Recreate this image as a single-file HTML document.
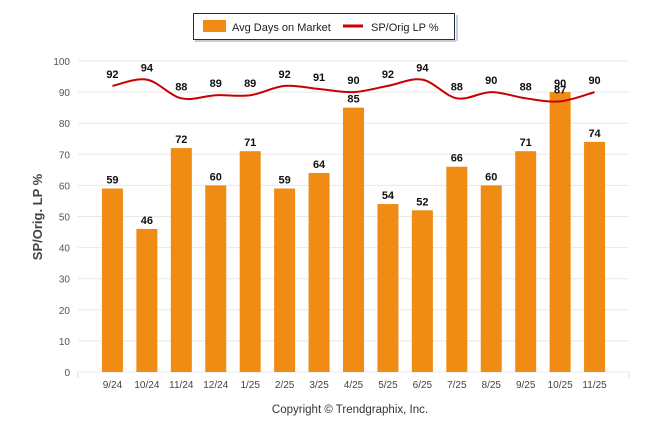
<!DOCTYPE html>
<html><head><meta charset="utf-8"><style>
body{margin:0;background:#fff;font-family:"Liberation Sans",sans-serif}
svg text{font-family:"Liberation Sans",sans-serif}
</style></head><body>
<svg width="646" height="434" xmlns="http://www.w3.org/2000/svg">
<g id="grid"></g><g id="bars"></g><g id="line"></g><g id="labels"></g>
<g>
<rect x="193.5" y="13.5" width="261" height="26" fill="#fff" stroke="#1f2d4d" stroke-width="1"/>
<rect x="456" y="15" width="2" height="26" fill="#ccc"/>
<rect x="195" y="40" width="261" height="2" fill="#ccc"/>
<rect x="203" y="20" width="23" height="12" fill="#f08c14"/>
<text x="232" y="31" font-size="11" fill="#222">Avg Days on Market</text>
<line x1="343" y1="26" x2="363" y2="26" stroke="#c00" stroke-width="3"/>
<text x="371" y="31" font-size="11" fill="#222">SP/Orig LP %</text>
</g>
<text transform="translate(42,217) rotate(-90)" text-anchor="middle" font-size="13" font-weight="bold" fill="#444">SP/Orig. LP %</text>
<text x="350" y="413" text-anchor="middle" font-size="11.5" fill="#333">Copyright © Trendgraphix, Inc.</text>
</svg>
<script>
const categories=["9/24","10/24","11/24","12/24","1/25","2/25","3/25","4/25","5/25","6/25","7/25","8/25","9/25","10/25","11/25"];
const daysOnMarket=[59,46,72,60,71,59,64,85,54,52,66,60,71,90,74];
const spOrigLp=[92,94,88,89,89,92,91,90,92,94,88,90,88,87,90];
const yTicks=[0,10,20,30,40,50,60,70,80,90,100];
const NS="http://www.w3.org/2000/svg";
const x0=78,x1=629,yb=372,yt=61;
const band=(x1-x0)/(categories.length+1);
const xs=i=>x0+band*(i+1);
const ys=v=>yb-(v/100)*(yb-yt);
function mk(t,a,p,txt){const e=document.createElementNS(NS,t);for(const k in a)e.setAttribute(k,a[k]);if(txt!==undefined)e.textContent=txt;p.appendChild(e);return e;}
const g=document.getElementById('grid'),b=document.getElementById('bars'),l=document.getElementById('line'),lb=document.getElementById('labels');
yTicks.forEach(v=>{
 const ln=mk('line',{x1:x0,x2:x1,y1:ys(v),y2:ys(v),stroke:'#e8e8e8'},g);
 
 
 const t=mk('text',{x:70,y:ys(v)+4,'text-anchor':'end','font-size':10,fill:'#555'},g,v);
 
 
});
mk('line',{x1:x0,x2:x0,y1:yb,y2:yb+6,stroke:'#ddd'},g);
mk('line',{x1:x1,x2:x1,y1:yb,y2:yb+6,stroke:'#ddd'},g);
categories.forEach((c,i)=>{
 const t=mk('text',{x:xs(i),y:yb+16,'text-anchor':'middle','font-size':10,fill:'#444'},g,c);
 
 
 const v=daysOnMarket[i];
 const r=mk('rect',{x:xs(i)-10.5,y:ys(v),width:21,height:yb-ys(v),fill:'#f08c14'},b);
 
 
 const bt=mk('text',{x:xs(i),y:ys(v)-5,'text-anchor':'middle','font-size':11,'font-weight':'bold',fill:'#111'},lb,v);
 
 
 const s=spOrigLp[i];
 const lt=mk('text',{x:xs(i),y:ys(s)-8,'text-anchor':'middle','font-size':11,'font-weight':'bold',fill:'#111'},lb,s);
 
 
});
const P=spOrigLp.map((v,i)=>[xs(i),ys(v)]);
let d='M'+P[0][0]+','+P[0][1];
for(let i=0;i<P.length-1;i++){
 const p0=P[i-1]||P[i],p1=P[i],p2=P[i+1],p3=P[i+2]||P[i+1];
 const c1=[p1[0]+(p2[0]-p0[0])/6,p1[1]+(p2[1]-p0[1])/6];
 const c2=[p2[0]-(p3[0]-p1[0])/6,p2[1]-(p3[1]-p1[1])/6];
 d+=` C${c1[0]},${c1[1]} ${c2[0]},${c2[1]} ${p2[0]},${p2[1]}`;
}
const path=mk('path',{d:d,fill:'none',stroke:'#c80000','stroke-width':2},l);


</script>
</body></html>
